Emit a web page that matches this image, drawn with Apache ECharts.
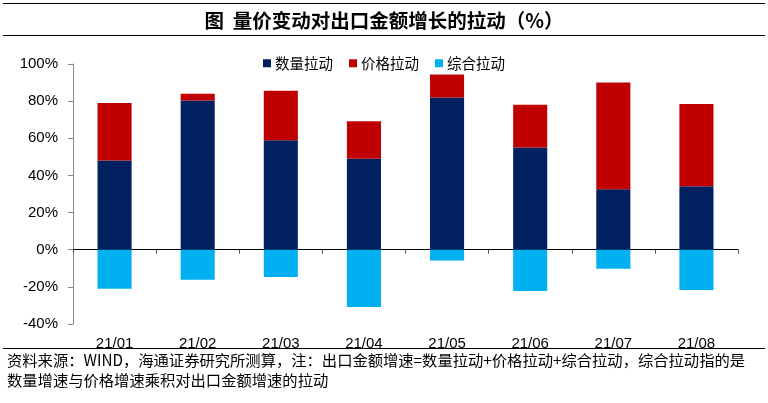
<!DOCTYPE html>
<html>
<head>
<meta charset="utf-8">
<script src="https://cdn.jsdelivr.net/npm/echarts@6/dist/echarts.min.js"></script>
<style>
html,body{margin:0;padding:0;background:#fff;}
#c{width:768px;height:403px;}
</style>
</head>
<body>
<div id="c"></div>
<script>
var categories = ['21/01','21/02','21/03','21/04','21/05','21/06','21/07','21/08'];
var quantityPull = [48, 80.3, 59, 49, 82, 55, 32.6, 34.2];
var pricePull = [31, 3.7, 26.6, 20.2, 12.4, 23, 57.4, 44.3];
var combinedPull = [-21, -16.2, -14.7, -30.8, -5.8, -22.2, -10.2, -21.7];
var yTicks = [-40, -20, 0, 20, 40, 60, 80, 100];

var chart = echarts.init(document.getElementById('c'));
var cjk = '"Noto Sans CJK SC", sans-serif';
chart.setOption({
  animation: false,
  backgroundColor: '#fff',
  title: {
    text: '图  量价变动对出口金额增长的拉动（%）',
    left: 'center', top: 6,
    textStyle: {fontFamily: cjk, fontSize: 19.5, fontWeight: 'bold', color: '#000'}
  },
  graphic: [
    {type: 'line', shape: {x1: 3, y1: 3.5, x2: 765, y2: 3.5}, style: {stroke: '#000', lineWidth: 1}},
    {type: 'line', shape: {x1: 3, y1: 35.5, x2: 765, y2: 35.5}, style: {stroke: '#000', lineWidth: 1}},
    {type: 'line', shape: {x1: 3, y1: 348.5, x2: 765, y2: 348.5}, style: {stroke: '#000', lineWidth: 1}},
    {type: 'text', left: 7, top: 353, style: {text: '资料来源：WIND，海通证券研究所测算，注：出口金额增速=数量拉动+价格拉动+综合拉动，综合拉动指的是', font: '15.3px "Noto Sans CJK SC"', fill: '#000'}},
    {type: 'text', left: 7, top: 373, style: {text: '数量增速与价格增速乘积对出口金额增速的拉动', font: '15.3px "Noto Sans CJK SC"', fill: '#000'}}
  ],
  legend: {
    data: ['数量拉动', '价格拉动', '综合拉动'],
    left: 'center', top: 51,
    itemWidth: 8, itemHeight: 8, itemGap: 16,
    icon: 'rect',
    textStyle: {fontFamily: cjk, fontSize: 14.5, color: '#000', padding: [0,0,0,-1]}
  },
  grid: {left: 73, right: 30, top: 64, bottom: 79},
  xAxis: [
    {
      type: 'category', data: categories,
      axisLine: {onZero: true, lineStyle: {color: '#000', width: 1}},
      axisTick: {show: true, length: 4, lineStyle: {color: '#555'}},
      axisLabel: {show: false}
    },
    {
      type: 'category', data: categories, position: 'bottom',
      axisLine: {show: false}, axisTick: {show: false},
      axisLabel: {fontFamily: 'Liberation Sans, Arial', fontSize: 15, color: '#000', margin: 12}
    }
  ],
  yAxis: {
    type: 'value', min: yTicks[0], max: yTicks[yTicks.length - 1], interval: 20,
    axisLine: {show: true, lineStyle: {color: '#888'}},
    axisTick: {show: true, length: 5, lineStyle: {color: '#888'}},
    splitLine: {show: false},
    axisLabel: {formatter: '{value}%', fontFamily: 'Liberation Sans, Arial', fontSize: 15, color: '#000', margin: 15}
  },
  series: [
    {name: '数量拉动', type: 'bar', stack: 'a', data: quantityPull, barWidth: '41%', itemStyle: {color: '#002060'}},
    {name: '价格拉动', type: 'bar', stack: 'a', data: pricePull, barWidth: '41%', itemStyle: {color: '#C00000'}},
    {name: '综合拉动', type: 'bar', stack: 'a', data: combinedPull, barWidth: '41%', itemStyle: {color: '#00B0F0'}}
  ]
});
</script>
</body>
</html>
